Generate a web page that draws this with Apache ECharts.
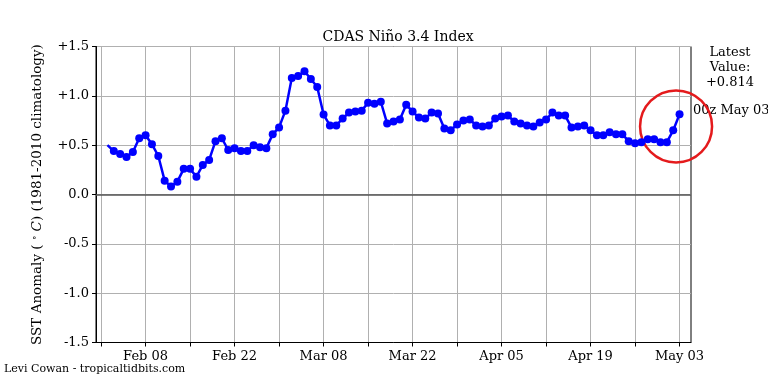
<!DOCTYPE html>
<html>
<head>
<meta charset="utf-8">
<script src="https://cdn.jsdelivr.net/npm/echarts@6/dist/echarts.min.js"></script>
<style>html,body{margin:0;padding:0;background:#fff}#c{width:768px;height:384px}</style>
</head>
<body>
<div id="c"></div>
<script>
// Daily Niño 3.4 anomaly, Feb 02 .. May 03 (day offset from Feb 01)
const startDate = Date.UTC(2025, 1, 1); // Feb 01
const firstDay = 1; // Feb 02
const anomaly = [
  0.50, 0.44, 0.41, 0.38, 0.43, 0.57, 0.60, 0.51, 0.39, 0.14, 0.08, 0.13, 0.26, 0.26,
  0.18, 0.30, 0.35, 0.54, 0.57, 0.45, 0.47, 0.44, 0.44, 0.50, 0.48, 0.47, 0.61,
  0.68, 0.85, 1.18, 1.20, 1.25, 1.17, 1.09, 0.81, 0.70, 0.70, 0.77, 0.83, 0.84, 0.85,
  0.93, 0.92, 0.94, 0.72, 0.74, 0.76, 0.91, 0.84, 0.78, 0.77, 0.83, 0.82, 0.67, 0.65,
  0.71, 0.75, 0.76, 0.70, 0.69, 0.70, 0.77, 0.79, 0.80, 0.74, 0.72, 0.70, 0.69, 0.73,
  0.76, 0.83, 0.80, 0.80, 0.68, 0.69, 0.70, 0.65, 0.60, 0.60, 0.63, 0.61, 0.61, 0.54,
  0.52, 0.53, 0.56, 0.56, 0.53, 0.53, 0.65, 0.814
];
const tickDays = [0, 7, 14, 21, 28, 35, 42, 49, 56, 63, 70, 77, 84, 91];
const labelDays = [7, 21, 35, 49, 63, 77, 91];
const yTicks = [-1.5, -1.0, -0.5, 0.0, 0.5, 1.0, 1.5];
const circleAt = [90.45, 0.69];

const months = ['Jan','Feb','Mar','Apr','May','Jun','Jul','Aug','Sep','Oct','Nov','Dec'];
function dayLabel(d) {
  const dt = new Date(startDate + d * 86400000);
  const dd = dt.getUTCDate();
  return months[dt.getUTCMonth()] + ' ' + (dd < 10 ? '0' + dd : dd);
}
const seriesData = anomaly.map((v, i) => {
  const item = { value: [firstDay + i, v] };
  if (i === 0) item.symbol = 'none';
  return item;
});
const last = anomaly[anomaly.length - 1];
const lastLabel = dayLabel(firstDay + anomaly.length - 1);
const FONT = 'DejaVu Serif';

const chart = echarts.init(document.getElementById('c'), null, { renderer: 'canvas' });
chart.setOption({
  animation: false,
  backgroundColor: '#fff',
  textStyle: { fontFamily: FONT },
  title: {
    text: 'CDAS Niño 3.4 Index',
    left: 393, top: 25, textAlign: 'center',
    textStyle: { fontFamily: FONT, fontSize: 14, fontWeight: 'normal', color: '#000' }
  },
  grid: { left: 96, right: 77, top: 46.5, bottom: 41.5, show: true, borderColor: '#000', borderWidth: 1 },
  xAxis: {
    type: 'value', min: -0.8, max: 92.8,
    axisLine: { show: true, onZero: false, lineStyle: { color: '#000', width: 1 } },
    axisTick: { show: true, length: 4, customValues: tickDays, lineStyle: { color: '#000' } },
    axisLabel: { customValues: labelDays, formatter: v => dayLabel(v), color: '#000', fontSize: 13, fontFamily: FONT, margin: 8 },
    splitLine: { show: true, lineStyle: { color: '#b0b0b0', width: 1 } }
  },
  yAxis: {
    type: 'value', min: -1.5, max: 1.5, interval: 0.5,
    axisLine: { show: true, onZero: false, lineStyle: { color: '#000', width: 1 } },
    axisTick: { show: true, length: 4, lineStyle: { color: '#000' } },
    axisLabel: {
      color: '#000', fontSize: 13, fontFamily: FONT, margin: 7,
      formatter: v => (v > 0 ? '+' : '') + v.toFixed(1)
    },
    splitLine: { show: true, lineStyle: { color: '#b0b0b0', width: 1 } },
    name: 'SST Anomaly ( {sup|∘} {it|C}) (1981-2010 climatology)',
    nameLocation: 'middle', nameGap: 51,
    nameTextStyle: {
      color: '#000', fontSize: 13.5, fontFamily: FONT,
      rich: {
        sup: { fontSize: 9, verticalAlign: 'top', padding: [0, 0, 6, 0], fontFamily: FONT, color: '#000' },
        it: { fontStyle: 'italic', fontSize: 13.5, fontFamily: FONT, color: '#000' }
      }
    }
  },
  series: [{
    type: 'line',
    data: seriesData,
    symbol: 'circle', symbolSize: 8,
    lineStyle: { color: '#0000ff', width: 2.5 },
    itemStyle: { color: '#0000ff' },
    z: 5,
    markLine: {
      silent: true, symbol: 'none', label: { show: false },
      lineStyle: { color: '#555', width: 1.5, type: 'solid' },
      data: [{ yAxis: 0 }]
    },
    markPoint: {
      silent: true,
      symbol: 'circle', symbolSize: 72,
      itemStyle: { color: 'rgba(0,0,0,0)', borderColor: '#e41a1c', borderWidth: 2.5 },
      label: { show: false },
      data: [{ coord: circleAt }]
    }
  }],
  graphic: [
    {
      type: 'text', x: 730, y: 45,
      style: {
        text: 'Latest\nValue:\n' + (last > 0 ? '+' : '') + last.toFixed(3),
        fontFamily: FONT, fontSize: 13, lineHeight: 15, fill: '#000', align: 'center', verticalAlign: 'top'
      }
    },
    {
      type: 'text', x: 693, y: 111,
      style: { text: '00z ' + lastLabel, fontFamily: FONT, fontSize: 13, fill: '#000', align: 'left', verticalAlign: 'middle' }
    },
    {
      type: 'text', x: 4, y: 369,
      style: { text: 'Levi Cowan - tropicaltidbits.com', fontFamily: FONT, fontSize: 11, fill: '#000', align: 'left', verticalAlign: 'middle' }
    }
  ]
});
</script>
</body>
</html>
